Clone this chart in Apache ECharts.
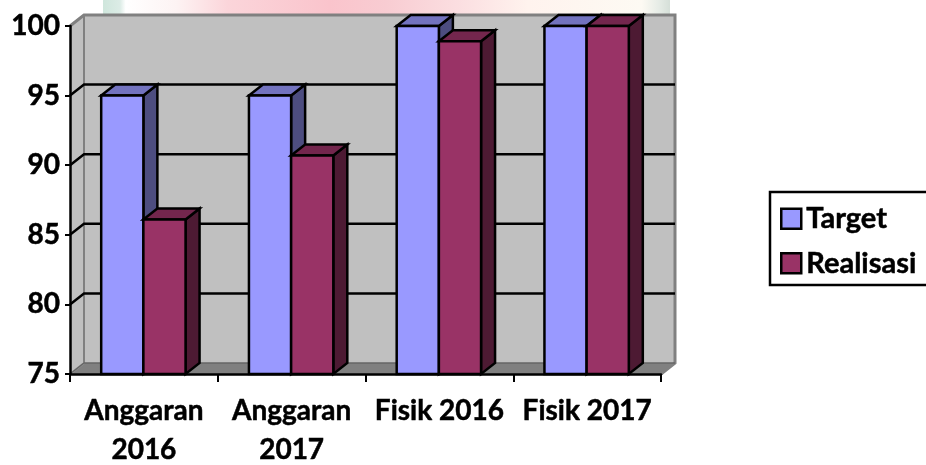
<!DOCTYPE html>
<html>
<head>
<meta charset="utf-8">
<style>html,body{margin:0;padding:0;background:#fff;overflow:hidden}#c{width:926px;height:465px}</style>
<script src="https://cdn.jsdelivr.net/npm/echarts@6/dist/echarts.min.js"></script>
</head>
<body>
<div id="c"></div>
<script>
const categories = ['Anggaran\n2016', 'Anggaran\n2017', 'Fisik 2016', 'Fisik 2017'];
const target = [95, 95, 100, 100];
const realisasi = [86.1, 90.7, 98.9, 100];
const yMin = 75, yMax = 100, yStep = 5;
const gridValues = [75, 80, 85, 90, 95];

const DX = 14, DY = -11;
const FONT = 'Lato, "Noto Sans", sans-serif';
const colors = {
  Target: { front: '#9999ff', top: '#7373bf', side: '#4d4d80' },
  Realisasi: { front: '#993366', top: '#73264d', side: '#4d1a33' }
};
const heavy = { textBorderColor: '#000', textBorderWidth: 0.5 };

function barItem(name, dir) {
  const c = colors[name];
  return function (params, api) {
    const cat = api.value(0), v = api.value(1);
    const top = api.coord([cat, v]);
    const base = api.coord([cat, yMin]);
    const w = api.size([1, 0])[0] * 0.2855;
    const x0 = (dir < 0 ? top[0] - w : top[0]) - 0.5;
    const x1 = x0 + w, y0 = top[1], y1 = base[1];
    const line = { stroke: '#000', lineWidth: 2.5, lineJoin: 'miter' };
    return {
      type: 'group',
      children: [
        { type: 'polygon', shape: { points: [[x1, y0], [x1 + DX, y0 + DY], [x1 + DX, y1 + DY], [x1, y1]] },
          style: Object.assign({ fill: c.side }, line) },
        { type: 'polygon', shape: { points: [[x0, y0], [x0 + DX, y0 + DY], [x1 + DX, y0 + DY], [x1, y0]] },
          style: Object.assign({ fill: c.top }, line) },
        { type: 'rect', shape: { x: x0, y: y0, width: w, height: y1 - y0 },
          style: Object.assign({ fill: c.front }, line) }
      ]
    };
  };
}

function wallItem(params, api) {
  const cs = params.coordSys;
  const L = cs.x, R = cs.x + cs.width, T = cs.y, B = cs.y + cs.height;
  const children = [
    { type: 'polygon', shape: { points: [[L, T], [L + DX, T + DY], [R + DX, T + DY], [R + DX, B + DY], [L + DX, B + DY], [L, B]] },
      style: { fill: '#c0c0c0', stroke: 'none' } },
    { type: 'polygon', shape: { points: [[L, B], [L + DX, B + DY], [R + DX, B + DY], [R, B]] },
      style: { fill: '#808080', stroke: 'none' } },
    { type: 'polyline', shape: { points: [[L, T], [L + DX, T + DY], [R + DX, T + DY], [R + DX, B + DY], [R, B]] },
      style: { fill: 'none', stroke: '#808080', lineWidth: 3 } },
    { type: 'line', shape: { x1: L + DX, y1: T + DY, x2: L + DX, y2: B + DY },
      style: { stroke: '#808080', lineWidth: 2 } },
    { type: 'line', shape: { x1: L, y1: B, x2: L + DX, y2: B + DY },
      style: { stroke: '#a0a0a0', lineWidth: 2 } }
  ];
  gridValues.forEach(function (g) {
    const y = api.coord([0, g])[1];
    const stroke = g === yMin ? '#666666' : '#000';
    const lw = g === yMin ? 1.5 : 2.5;
    children.push({ type: 'polyline', shape: { points: [[L, y], [L + DX, y + DY], [R + DX, y + DY]] },
      style: { fill: 'none', stroke: stroke, lineWidth: lw } });
  });
  return { type: 'group', children: children };
}

const chart = echarts.init(document.getElementById('c'), null, { renderer: 'canvas' });
chart.setOption({
  animation: false,
  backgroundColor: '#fff',
  graphic: [{
    type: 'rect', z: -10, silent: true,
    shape: { x: 103, y: 0, width: 567, height: 16 },
    style: { fill: {
      type: 'linear', x: 0, y: 0, x2: 1, y2: 0,
      colorStops: [
        { offset: 0, color: '#cfe6dc' }, { offset: 0.03, color: '#dcece6' }, { offset: 0.04, color: '#ffffff' },
        { offset: 0.13, color: '#fdf3f3' }, { offset: 0.22, color: '#fbd5da' }, { offset: 0.4, color: '#fac4cc' },
        { offset: 0.5, color: '#f8ccd2' }, { offset: 0.62, color: '#fbdde0' }, { offset: 0.75, color: '#fff3ee' },
        { offset: 0.95, color: '#fdfaf3' }, { offset: 0.98, color: '#e6ece6' }, { offset: 1, color: '#d5dfd8' }
      ] } }
  }],
  grid: { left: 70, top: 26, width: 591, height: 348, containLabel: false, outerBoundsMode: 'none' },
  legend: {
    left: 770, top: 192, orient: 'vertical',
    backgroundColor: '#fff', borderColor: '#000', borderWidth: 2.5, borderRadius: 0,
    padding: [12, 40, 7, 10],
    itemWidth: 20, itemHeight: 20, itemGap: 15,
    textStyle: Object.assign({ fontFamily: FONT, fontWeight: 'bold', fontSize: 29, lineHeight: 20, color: '#000' }, heavy),
    data: [
      { name: 'Target', icon: 'rect', itemStyle: { color: colors.Target.front, borderColor: '#000', borderWidth: 2.5 } },
      { name: 'Realisasi', icon: 'rect', itemStyle: { color: colors.Realisasi.front, borderColor: '#000', borderWidth: 2.5 } }
    ]
  },
  xAxis: {
    type: 'category', data: categories, boundaryGap: true,
    axisLine: { show: true, lineStyle: { color: '#000', width: 2.5 } },
    axisTick: { show: true, length: 8, lineStyle: { color: '#000', width: 2 } },
    axisLabel: Object.assign({ interval: 0, fontFamily: FONT, fontWeight: 'bold', fontSize: 28, color: '#000', lineHeight: 39, margin: 17 }, heavy),
    splitLine: { show: false }
  },
  yAxis: {
    type: 'value', min: yMin, max: yMax, interval: yStep,
    axisLine: { show: true, lineStyle: { color: '#000', width: 2.5 } },
    axisTick: { show: true, length: 5, lineStyle: { color: '#000', width: 2 } },
    axisLabel: Object.assign({ fontFamily: FONT, fontWeight: 'bold', fontSize: 28, color: '#000', margin: 10 }, heavy),
    splitLine: { show: false }
  },
  series: [
    { type: 'custom', name: 'Wall', z: -1, silent: true, renderItem: wallItem, data: [[0, yMin]], clip: false },
    { type: 'custom', name: 'Target', z: 3, renderItem: barItem('Target', -1), clip: false,
      encode: { x: 0, y: 1 }, data: target.map((v, i) => [i, v]) },
    { type: 'custom', name: 'Realisasi', z: 4, renderItem: barItem('Realisasi', 1), clip: false,
      encode: { x: 0, y: 1 }, data: realisasi.map((v, i) => [i, v]) }
  ]
});
</script>
</body>
</html>
